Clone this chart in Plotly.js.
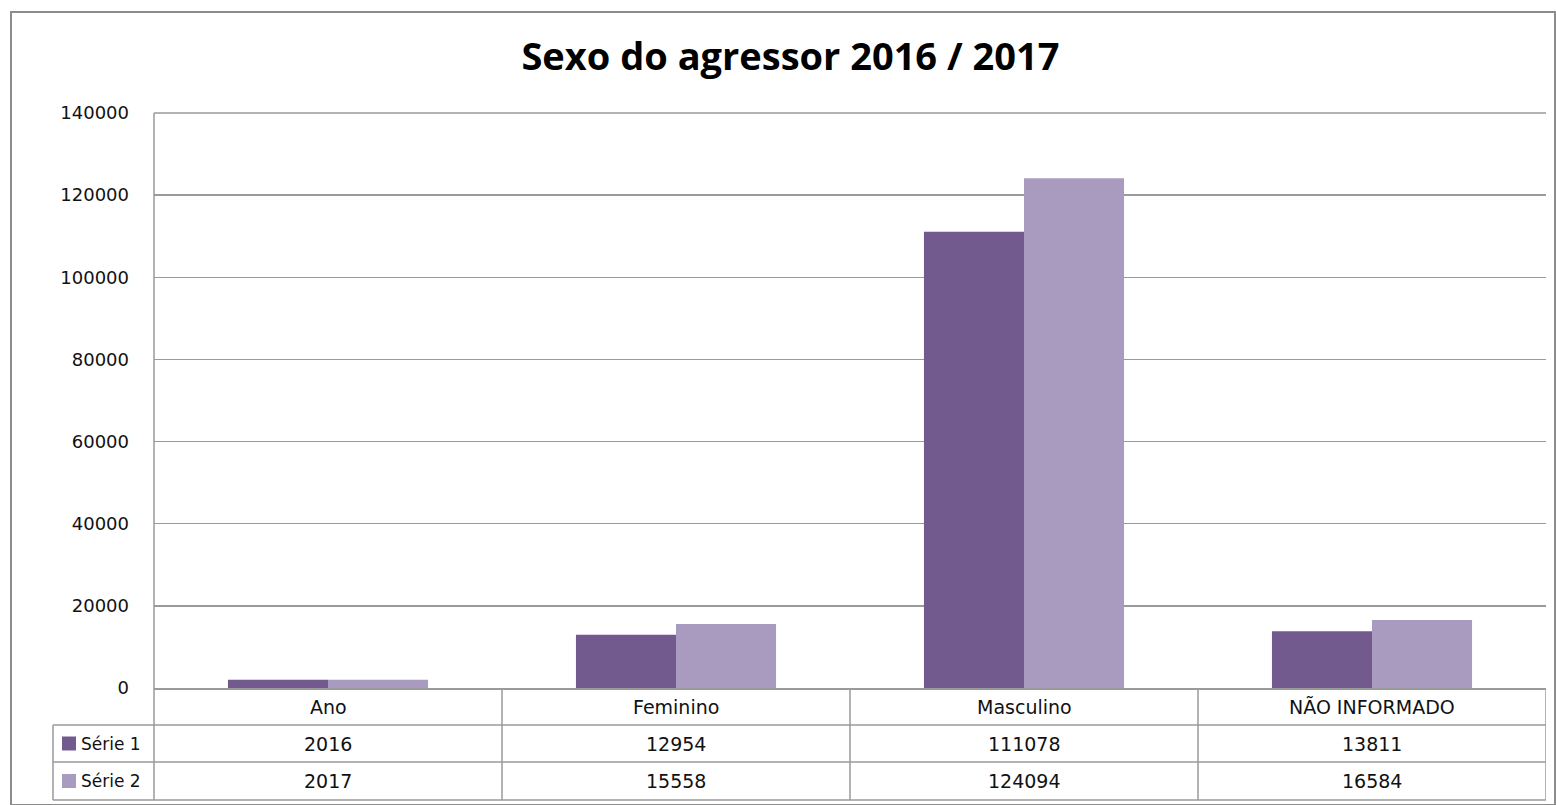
<!DOCTYPE html>
<html>
<head>
<meta charset="utf-8">
<script src="https://cdn.plot.ly/plotly-3.0.1.min.js"></script>
<style>
  html, body { margin: 0; padding: 0; background: #fff; }
  #chart { width: 1556px; height: 805px; }
</style>
</head>
<body>
<div id="chart"></div>
<script>
var categories = ['Ano', 'Feminino', 'Masculino', 'NÃO INFORMADO']
var serie1 = [2016, 12954, 111078, 13811]
var serie2 = [2017, 15558, 124094, 16584]
var series_names = ['Série 1', 'Série 2']
var series_colors = ['#725a8e', '#a99bbf']

var line_col = '#9a9a9a'
var font_fam = 'DejaVu Sans, Verdana, sans-serif'
var txt_col = '#111111'

// pixel -> paper helpers (plot area 154..1546 x 113..688)
var L = 154, R = 1546, T = 113, B = 688
function px(x){ return (x - L) / (R - L) }
function py(y){ return (B - y) / (B - T) }

var data = [
  { x: categories, y: serie1, type: 'bar', name: series_names[0],
    marker: { color: series_colors[0] }, hoverinfo: 'x+y' },
  { x: categories, y: serie2, type: 'bar', name: series_names[1],
    marker: { color: series_colors[1] }, hoverinfo: 'x+y' }
]

var rows_y = [725, 762, 800]
var shapes = []
// outer chart border
shapes.push({ type: 'rect', xref: 'paper', yref: 'paper',
  x0: px(11), x1: px(1555), y0: py(805), y1: py(12),
  line: { color: '#8c8c8c', width: 2 } })
// top gridline (at the range edge)
shapes.push({ type: 'line', xref: 'paper', yref: 'paper',
  x0: 0, x1: 1, y0: 1, y1: 1, line: { color: line_col, width: 1.5 } })
// table horizontal lines
rows_y.forEach(function(yy){
  shapes.push({ type: 'line', xref: 'paper', yref: 'paper',
    x0: px(53), x1: 1, y0: py(yy), y1: py(yy), line: { color: line_col, width: 1.5 } })
})
// left axis line down through the table
shapes.push({ type: 'line', xref: 'paper', yref: 'paper',
  x0: 0, x1: 0, y0: 1, y1: py(800), line: { color: line_col, width: 1.5 } })
// legend column left edge
shapes.push({ type: 'line', xref: 'paper', yref: 'paper',
  x0: px(53), x1: px(53), y0: py(725), y1: py(800), line: { color: line_col, width: 1.5 } })
// column dividers
for (var c = 1; c <= categories.length; c++) {
  shapes.push({ type: 'line', xref: 'x', yref: 'paper',
    x0: c - 0.5, x1: c - 0.5, y0: 0, y1: py(800), line: { color: line_col, width: 1.5 } })
}
// legend keys
for (var s = 0; s < 2; s++) {
  var cy = (rows_y[s] + rows_y[s + 1]) / 2
  shapes.push({ type: 'rect', xref: 'paper', yref: 'paper',
    x0: px(62), x1: px(76), y0: py(cy + 7), y1: py(cy - 7),
    fillcolor: series_colors[s], line: { width: 0 } })
}

var annotations = []
var tfont = { family: font_fam, size: 19, color: txt_col }
categories.forEach(function(cat, i){
  annotations.push({ x: i, y: py((B + rows_y[0]) / 2), xref: 'x', yref: 'paper',
    text: cat, showarrow: false, font: tfont, yanchor: 'middle' })
  annotations.push({ x: i, y: py((rows_y[0] + rows_y[1]) / 2), xref: 'x', yref: 'paper',
    text: String(serie1[i]), showarrow: false, font: tfont, yanchor: 'middle' })
  annotations.push({ x: i, y: py((rows_y[1] + rows_y[2]) / 2), xref: 'x', yref: 'paper',
    text: String(serie2[i]), showarrow: false, font: tfont, yanchor: 'middle' })
})
for (var s = 0; s < 2; s++) {
  annotations.push({ x: px(79), y: py((rows_y[s] + rows_y[s + 1]) / 2), xref: 'paper', yref: 'paper',
    text: series_names[s], showarrow: false, xanchor: 'left', yanchor: 'middle',
    font: { family: font_fam, size: 17, color: txt_col } })
}

var layout = {
  width: 1556,
  height: 805,
  margin: { l: L, r: 1556 - R, t: T, b: 805 - B, pad: 0 },
  paper_bgcolor: '#ffffff',
  plot_bgcolor: '#ffffff',
  showlegend: false,
  barmode: 'group',
  bargap: 0.425,
  bargroupgap: 0,
  title: {
    text: '<b>Sexo do agressor 2016 / 2017</b>',
    font: { family: 'Open Sans, sans-serif', size: 38, color: '#000000' },
    x: 0.508, xanchor: 'center', y: 1 - 57 / 805, yanchor: 'middle'
  },
  xaxis: {
    type: 'category',
    range: [-0.5, categories.length - 0.5],
    showticklabels: false,
    showgrid: false,
    zeroline: false,
    showline: true,
    linecolor: line_col,
    linewidth: 1.5,
    ticks: ''
  },
  yaxis: {
    range: [0, 140000],
    dtick: 20000,
    tick0: 0,
    tickformat: 'd',
    showgrid: true,
    gridcolor: line_col,
    gridwidth: 1.5,
    zeroline: false,
    showline: false,
    ticks: '',
    ticklabelstandoff: 24,
    tickfont: { family: font_fam, size: 18, color: txt_col }
  },
  shapes: shapes,
  annotations: annotations
}

Plotly.newPlot('chart', data, layout, { displayModeBar: false, staticPlot: true })
</script>
</body>
</html>
